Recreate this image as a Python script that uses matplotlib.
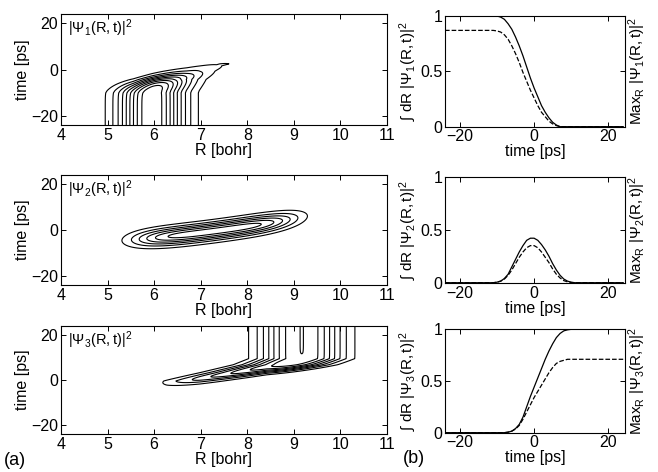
"""
Wavepacket densities on three states and their populations.
"""
import numpy as np
import matplotlib
matplotlib.use("Agg")
from matplotlib import pyplot as plt

plt.rcParams["font.family"] = ["Liberation Sans", "DejaVu Sans"]
plt.rcParams["mathtext.fontset"] = "custom"
plt.rcParams["mathtext.rm"] = "Liberation Sans"
plt.rcParams["mathtext.it"] = "Liberation Sans"
plt.rcParams["mathtext.fallback"] = "stixsans"
plt.rcParams["font.size"] = 11.5

# populations, one value per ps
t_pop = np.arange(-24, 25)
norm1 = [1.0] * 15 + [0.99, 0.97, 0.93, 0.88, 0.81, 0.73, 0.64, 0.54, 0.44,
                      0.35, 0.27, 0.19, 0.13, 0.08, 0.04, 0.015] + [0.0] * 18
max1 = [0.87] * 14 + [0.865, 0.855, 0.83, 0.79, 0.73, 0.66, 0.58, 0.49, 0.41,
                      0.33, 0.26, 0.19, 0.13, 0.09, 0.05, 0.025, 0.01] + [0.0] * 18
norm2 = [0.0] * 14 + [0.005, 0.015, 0.04, 0.08, 0.15, 0.22, 0.29, 0.35, 0.40,
                      0.42, 0.42, 0.40, 0.36, 0.31, 0.25, 0.18, 0.12, 0.07,
                      0.035, 0.015, 0.005] + [0.0] * 14
max2 = [0.0] * 14 + [0.005, 0.015, 0.035, 0.07, 0.12, 0.18, 0.24, 0.29, 0.33,
                     0.35, 0.35, 0.33, 0.29, 0.24, 0.19, 0.13, 0.08, 0.045,
                     0.02, 0.008, 0.002] + [0.0] * 14
norm3 = [0.0] * 17 + [0.005, 0.015, 0.04, 0.08, 0.15, 0.25, 0.35, 0.44, 0.53,
                      0.62, 0.71, 0.79, 0.86, 0.92, 0.96, 0.985, 0.995] + [1.0] * 15
max3 = [0.0] * 17 + [0.005, 0.015, 0.035, 0.07, 0.13, 0.20, 0.27, 0.34, 0.40,
                     0.46, 0.52, 0.58, 0.63, 0.67, 0.69, 0.70] + [0.71] * 16

# wavepacket shapes
# state 1: packet at R0, emptied at a time depending on R, drifting outwards
r0_1, width1 = 5.95, 0.466
drift1_t = [-24, -10, -9, -4.2, -0.7, 1.6, 2.5, 6, 24]
drift1_r = [0, 0, 0.02, 0.18, 0.45, 0.74, 0.9, 1.2, 1.2]
empty1_r = [4.0, 4.95, 5.12, 5.55, 5.96, 6.7, 7.34, 7.78, 8.5, 11]
empty1_t = [-6.4, -6.1, -6.0, -5.6, -4.15, -2.1, 0.3, 2.8, 4, 10]
# state 2: transient ridge in the (R, t) plane
ridge2_r = [5.5, 6.4, 7.7, 8.8, 9.4]
ridge2_t = [-4.2, -2.8, 0.75, 4.3, 6.4]
r0_2, width2, dur2 = 7.3, 1.71, 2.67
# state 3: packet arriving from small R, settling at R0
r0_3, width3, peak3 = 9.17, 0.83, 0.8006
shift3_t = [-24, -3, -0.45, 3.3, 6.8, 9.5, 24]
shift3_r = [-2.3, -2.2, -1.9, -1.05, -0.33, 0, 0]
fill3_r = [4, 6.27, 6.98, 8.42, 9.85, 11]
fill3_t = [-3, -1.42, 0.15, 3.85, 5.0, 6]

R = np.linspace(4, 11, 400)
T = np.linspace(-24, 24, 600)
RR, TT = np.meshgrid(R, T)

d1 = np.interp(TT, drift1_t, drift1_r)
t1 = np.interp(RR, empty1_r, empty1_t)
psi1 = np.exp(-0.5 * ((RR - r0_1 - d1) / width1) ** 2) / (1 + np.exp((TT - t1) / 1.34))

t0 = np.polyval(np.polyfit(ridge2_r, ridge2_t, 2), RR)
psi2 = np.exp(-(np.abs(RR - r0_2) / width2) ** 4.2) * np.exp(-0.5 * ((TT - t0) / dur2) ** 2)

e3 = np.interp(TT, shift3_t, shift3_r)
t3 = np.interp(RR, fill3_r, fill3_t)
psi3 = peak3 * np.exp(-(np.abs(RR - r0_3 - e3) / width3) ** 2.3) / (1 + np.exp(-(TT - t3)))

fields = [psi1, psi2, psi3]
levels = [np.arange(1, 10) / 10, np.arange(1, 7) * 0.15, np.arange(1, 9) / 10]
pops = [(norm1, max1), (norm2, max2), (norm3, max3)]

fig = plt.figure(figsize=(6.58, 4.72), dpi=100)
left_boxes = [[0.0927, 0.7345, 0.4954, 0.2358],
              [0.0927, 0.3962, 0.4954, 0.2330],
              [0.0927, 0.0805, 0.4954, 0.2288]]
right_boxes = [[0.6763, 0.7316, 0.2736, 0.2345],
               [0.6763, 0.4010, 0.2736, 0.2246],
               [0.6763, 0.0833, 0.2736, 0.2190]]

for i in range(3):
    n = i + 1
    ax = fig.add_axes(left_boxes[i])
    ax.contour(R, T, fields[i], levels=levels[i], colors="k", linewidths=0.8)
    ax.set_xlim(4, 11)
    ax.set_ylim(-24, 24)
    ax.set_xticks(range(4, 12))
    ax.set_yticks([-20, 0, 20])
    ax.set_yticklabels(["\u221220", "0", "20"])
    ax.set_xlabel("R [bohr]", labelpad=0)
    ax.set_ylabel("time [ps]", labelpad=1)
    ax.text(0.02, 0.97, r"$|\Psi_%d(R,t)|^2$" % n, transform=ax.transAxes,
            va="top", ha="left", fontsize=10.5)

    ax2 = fig.add_axes(right_boxes[i])
    ax2.plot(t_pop, pops[i][0], "k-", lw=0.9)
    ax2.plot(t_pop, pops[i][1], "k--", lw=0.9)
    ax2.set_xlim(-24, 24.5)
    ax2.set_ylim(0, 1)
    ax2.set_xticks([-20, 0, 20])
    ax2.set_xticklabels(["\u221220", "0", "20"])
    ax2.set_yticks([0, 0.5, 1])
    ax2.set_yticklabels(["0", "0.5", "1"])
    ax2.set_xlabel("time [ps]", labelpad=0)
    ax2.set_ylabel(r"$\int$ dR $|\Psi_%d(R,t)|^2$" % n, fontsize=11)
    ax2.yaxis.set_label_coords(-0.15, 0.5)
    ax2.text(1.065, 0.5, r"Max$_\mathrm{R}$ $|\Psi_%d(R,t)|^2$" % n,
             transform=ax2.transAxes, rotation=90, va="center", ha="center",
             fontsize=11)

    for a in (ax, ax2):
        a.tick_params(direction="in", top=True, right=True, length=3.5,
                      width=0.7, labelsize=11.5, pad=2)
        for s in a.spines.values():
            s.set_linewidth(0.8)

fig.text(0.023, 0.025, "(a)", fontsize=13, ha="center", va="center")
fig.text(0.629, 0.028, "(b)", fontsize=13, ha="center", va="center")

plt.savefig("out.png", dpi=100)
